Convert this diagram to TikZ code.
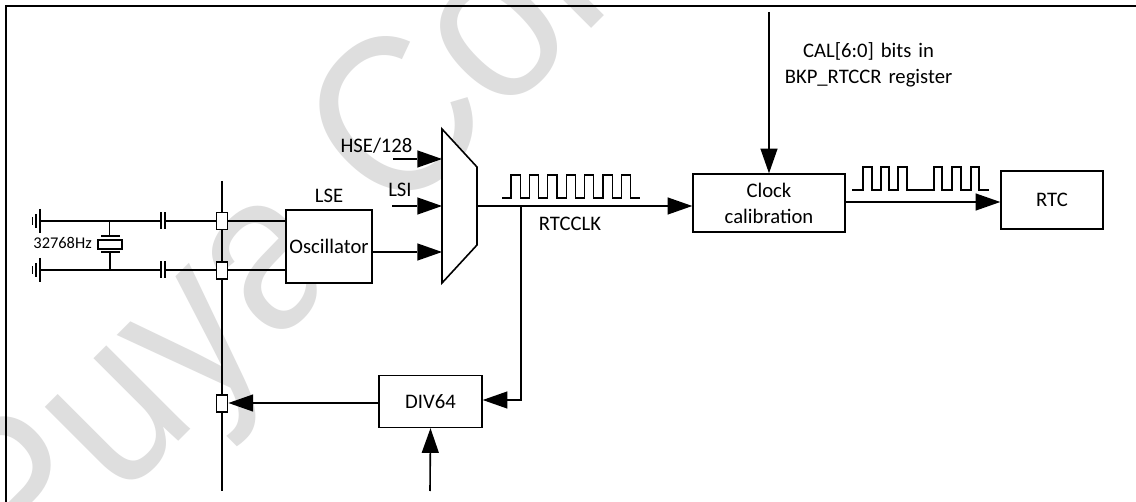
\documentclass[tikz,border=0pt]{standalone}
\usepackage{graphicx}
\usepackage{fontspec}
\setmainfont{Carlito}
\newfontfamily\wmfont{Liberation Sans}
\usetikzlibrary{arrows.meta}
\definecolor{wm}{gray}{0.87}
\tikzset{
  wire/.style={line width=1.2pt,draw=black},
  arr/.style={wire,-{Triangle[length=18.5pt,width=13pt,line width=0pt]}},
  blk/.style={draw=black,line width=1.1pt,fill=white,align=center,font=\fontsize{15.5pt}{19.5pt}\selectfont,inner sep=0pt},
  pad/.style={draw=black,line width=1.2pt,fill=white,minimum width=8.5pt,minimum height=12.5pt,inner sep=0pt},
  lab/.style={font=\fontsize{15.5pt}{19.5pt}\selectfont,align=center,inner sep=0pt},
  sig/.style={line width=0.95pt,line join=miter}
}
\begin{document}
\begin{tikzpicture}[x=0.75pt,y=-0.75pt]
\useasboundingbox (0,0) rectangle (1136,502);
\fill[white] (0,0) rectangle (1136,502);
% watermark
\begin{scope}
\clip (0,0) rectangle (1136,502);
\node[rotate=45,text=wm,font=\wmfont\fontsize{168pt}{168pt}\selectfont,inner sep=0pt,anchor=base west] (wmk) at (22.5,597.5) {\scalebox{0.92}[1]{Puya Con}};
\end{scope}
% frame
\draw[line width=1.2pt] (6,502) -- (6,6) -- (1136,6);
% blocks
\node[blk,minimum width=64.5pt,minimum height=54.75pt] (osc) at (329,246.5) {Oscillator};
\node[blk,minimum width=114pt,minimum height=43.5pt] (cal) at (769,203) {Clock\\calibration};
\node[blk,minimum width=76.5pt,minimum height=43.5pt] (rtc) at (1052,200) {RTC};
\node[blk,minimum width=77.25pt,minimum height=39pt] (div) at (430.5,401.5) {DIV64};
\node[lab,anchor=base] (lse) at (329,203) {LSE};
% mux
\draw[line width=1.2pt,fill=white] (442,129) -- (477,167) -- (477,245) -- (442,283) -- cycle;
\coordinate (muxo) at (477,206);
\coordinate (m1) at (442,159);
\coordinate (m2) at (442,206);
\coordinate (m3) at (442,252);
\coordinate (hs) at (393,159);
\coordinate (ls) at (392,206);
\draw[arr] (hs) -- (m1);
\draw[arr] (ls) -- (m2);
\draw[arr] (osc.east |- m3) -- (m3);
\node[lab,anchor=base] (hse) at (376.5,153) {HSE/128};
\node[lab,anchor=base] (lsi) at (400,197) {LSI};
\node[lab,anchor=base] (rtcclk) at (570,231) {RTCCLK};
% main wires
\draw[arr] (muxo) -- (cal.west |- muxo);
\draw[arr] (cal.east |- 0,202) -- (rtc.west |- 0,202);
\coordinate (top) at (769,12);
\draw[arr] (top) -- (cal.north);
\node[lab,anchor=base,text width=200pt] (calt) at (868.5,58) {CAL[6:0] bits in\\BKP\_RTCCR register};
% bus
\coordinate (bt) at (222,181);
\coordinate (bb) at (222,491);
\draw[wire] (bt) -- (bb);
\node[pad] (p1) at (222,221) {};
\node[pad] (p2) at (222,270.5) {};
\node[pad] (p3) at (222,403.5) {};
\draw[wire] (p1) -- (osc.west |- p1);
\draw[wire] (p2.east |- 0,270) -- (osc.west |- 0,270);
% feedback
\coordinate (fb) at (521,206);
\coordinate (fc) at (521,400);
\coordinate (dv) at (div.east |- fc);
\draw[arr] (fb) -- (fc) -- (dv);
\draw[arr] (div.west |- 0,403) -- (p3.east |- 0,403);
\coordinate (in) at (430,491);
\draw[arr] (in) -- (div.south);
% crystal
\coordinate (g1) at (40,221);
\coordinate (g2) at (40,270);
\coordinate (c1) at (161,221);
\coordinate (c2) at (161,270);
\coordinate (d1) at (165,221);
\coordinate (d2) at (165,270);
\draw[wire] (g1) -- (c1);
\draw[wire] (g2) -- (c2);
\draw[wire] (d1) -- (p1.west);
\draw[wire] (d2) -- (p2.west |- 0,270);
\foreach \y in {221,270}{
  \draw[wire] (161,\y-8.5) -- (161,\y+8.5);
  \draw[wire] (165,\y-8.5) -- (165,\y+8.5);
  \draw[wire] (40,\y-12) -- (40,\y+12);
  \draw[wire] (36,\y-7) -- (36,\y+7);
  \draw[wire] (32.5,\y-4) -- (32.5,\y+4);
}
\draw[wire] (109.5,221) -- (109.5,236);
\draw[wire] (110,252) -- (110,270);
\draw[wire] (101,236) -- (120,236);
\draw[wire] (101,252) -- (120,252);
\draw[wire] (98,240) rectangle (122,249);
\node[font=\fontsize{12.3pt}{14pt}\selectfont,inner sep=0pt,anchor=base east] (xt) at (92,249) {32768Hz};
% pulses
\draw[sig] (502,198) -- ++(9,0) \foreach \i in {1,...,6}{ -- ++(0,-23) -- ++(9.2,0) -- ++(0,23) -- ++(9.2,0)} -- ++(0,-23) -- ++(9.2,0) -- ++(0,23) -- ++(9,0);
\draw[sig] (852,190) -- (863,190) -- (863,167) -- (872,167) -- (872,190) -- (881,190) -- (881,167) -- (889,167) -- (889,190) -- (898,190) -- (898,167) -- (907,167) -- (907,190) -- (934,190) -- (934,167) -- (942,167) -- (942,190) -- (952,190) -- (952,167) -- (961,167) -- (961,190) -- (971,190) -- (971,167) -- (979,167) -- (979,190) -- (989,190);
\end{tikzpicture}
\end{document}
